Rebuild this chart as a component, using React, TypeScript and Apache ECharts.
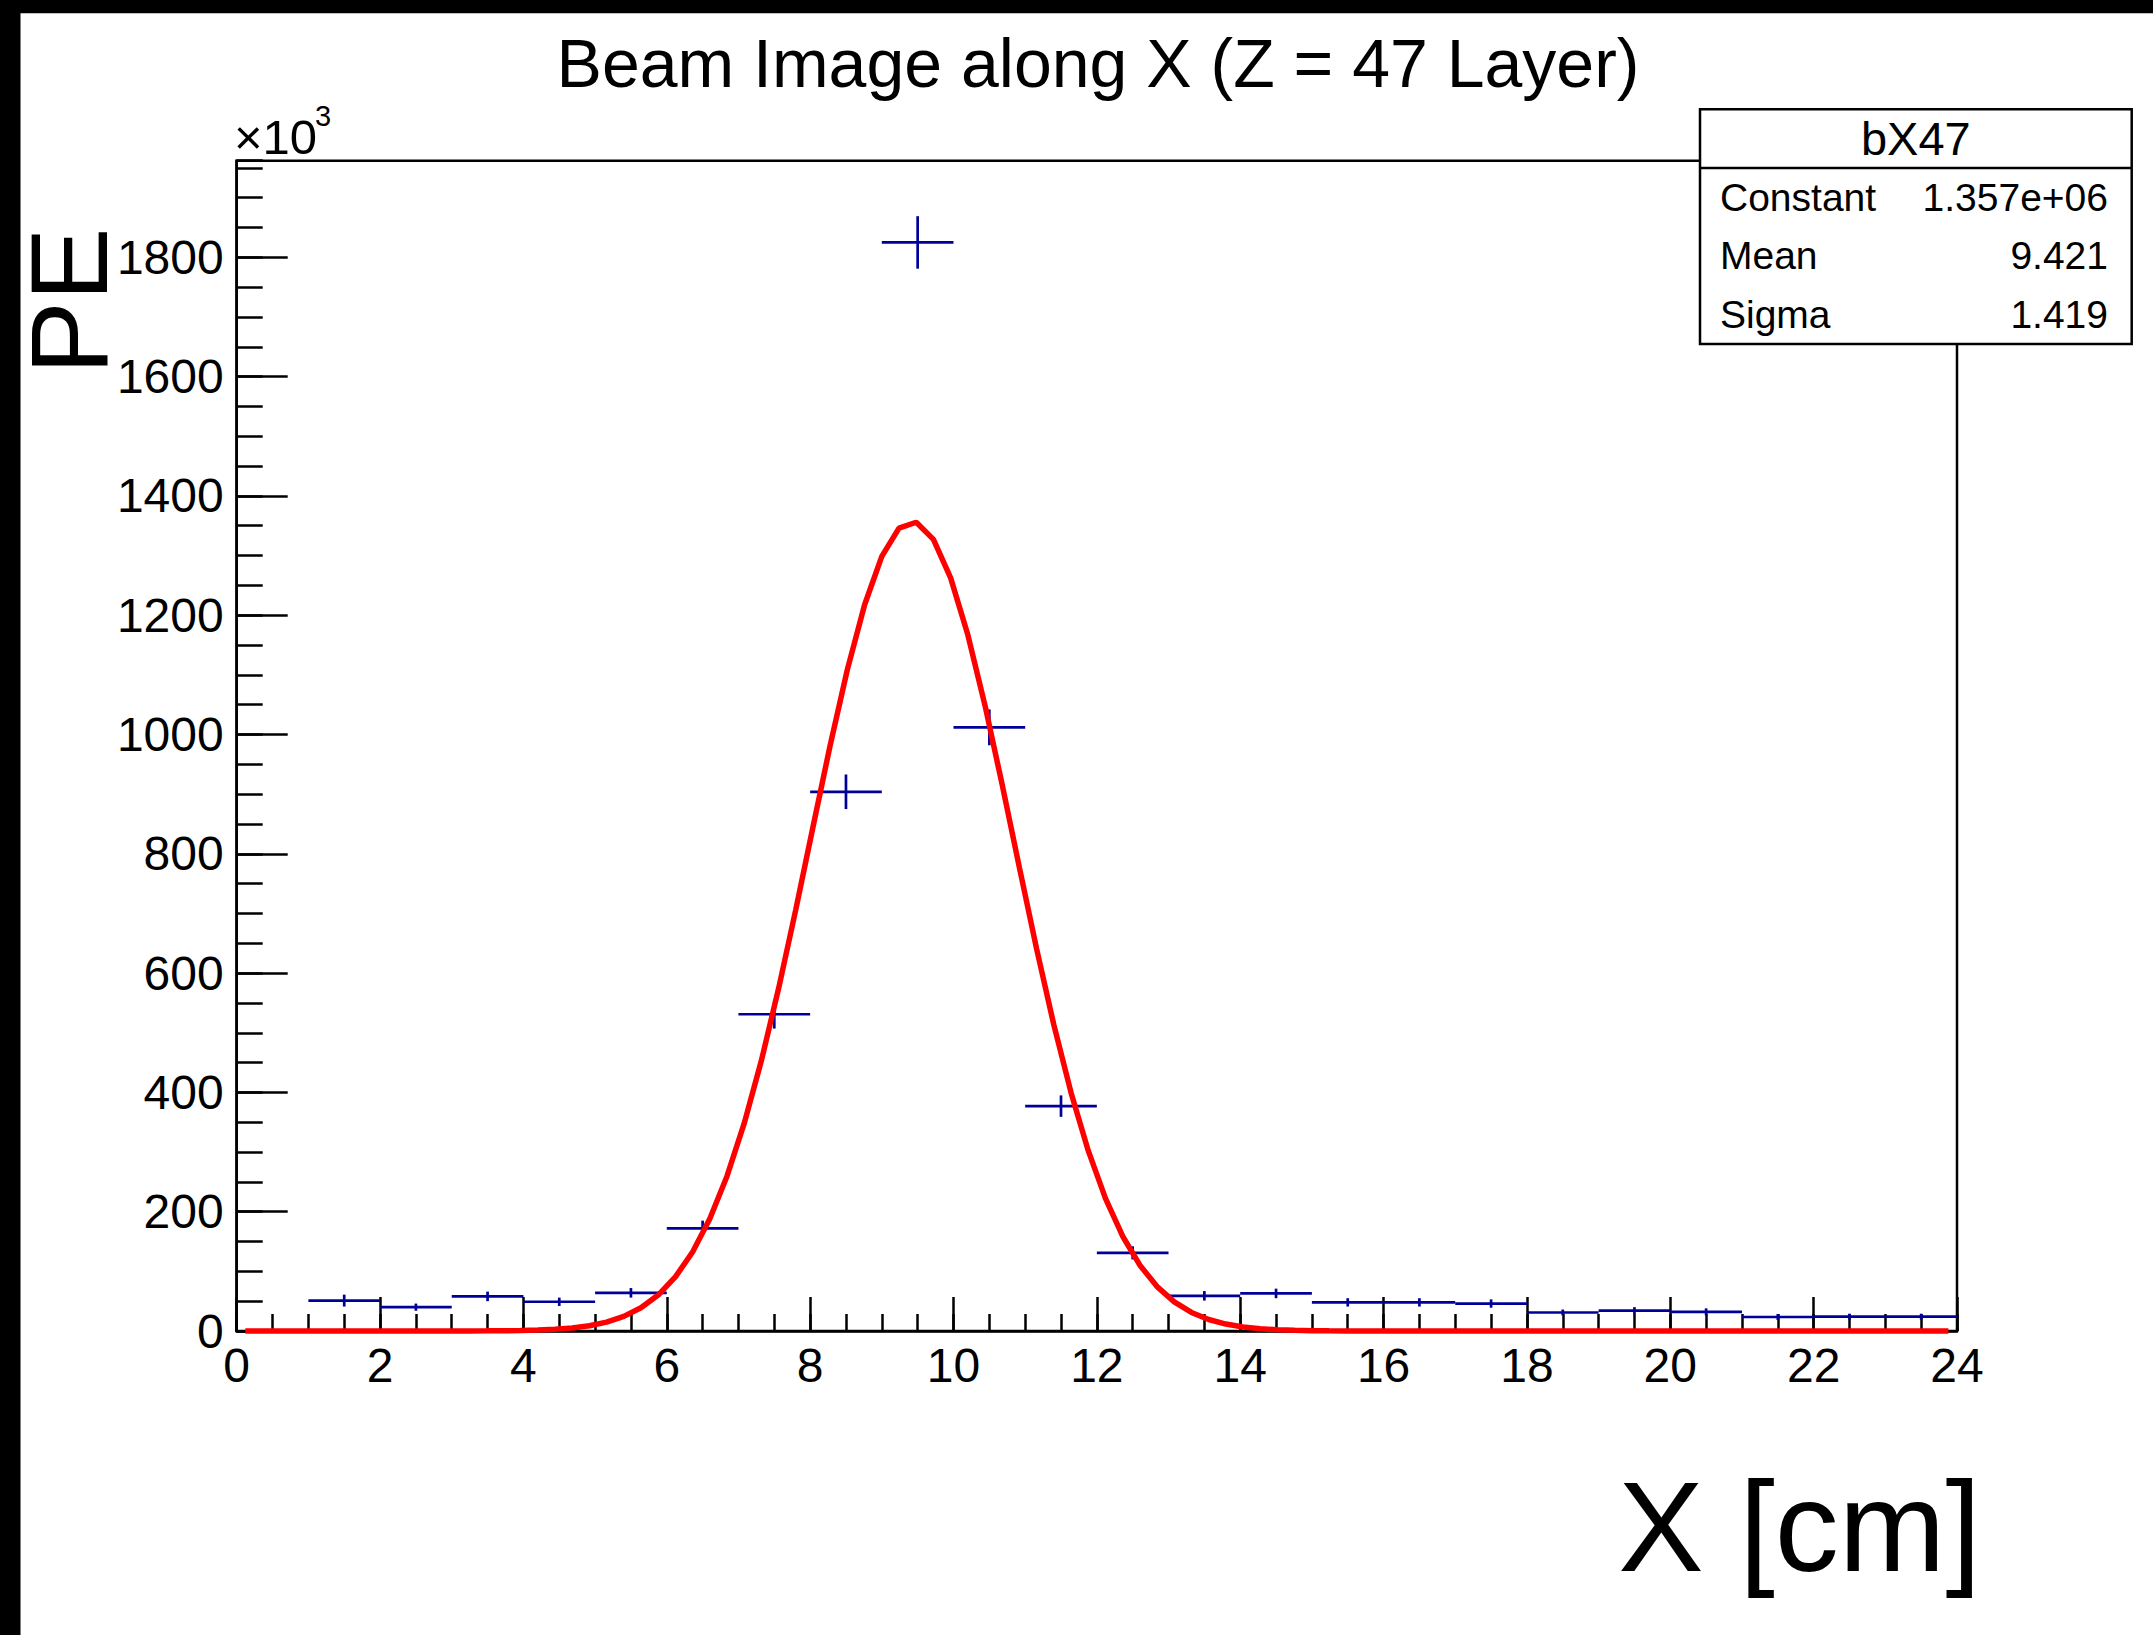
import React, { useEffect, useRef } from 'react';
import * as echarts from 'echarts';

// ---- Texts ----
const TITLE = 'Beam Image along X (Z = 47 Layer)';
const X_TITLE = 'X [cm]';
const Y_TITLE = 'PE';
const Y_MULT = '×10';
const Y_MULT_EXP = '3';
const HIST_NAME = 'bX47';

// ---- Histogram (values in units of 10^3 PE) ----
const binCenters = [0.5, 1.5, 2.5, 3.5, 4.5, 5.5, 6.5, 7.5, 8.5, 9.5, 10.5, 11.5, 12.5, 13.5, 14.5, 15.5, 16.5, 17.5, 18.5, 19.5, 20.5, 21.5, 22.5, 23.5];
const binValues = [null, 51, 40, 58, 49, 64, 172, 531, 904, 1825, 1012, 377, 131, 59, 63, 48, 48, 46, 31, 34, 32, 23.5, 24, 24];
const binErrors = [null, 10, 6, 8, 7, 8, 13, 24, 29, 44, 30, 18, 11, 8, 8, 7, 7, 7, 5, 6, 6, 5, 5, 5];
const BIN_WIDTH = 1;

// ---- Gaussian fit parameters (from the stats box) ----
const FIT_CONSTANT = 1357; // x10^3
const FIT_MEAN = 9.421;
const FIT_SIGMA = 1.419;
const FIT_NPX = 100;

const statLabels = ['Constant', 'Mean', 'Sigma'];
const statValues = ['1.357e+06', '9.421', '1.419'];

// ---- Axes ----
const X_MIN = 0;
const X_MAX = 24;
const X_MAJOR = 2;
const X_MINOR = 0.5;
const Y_MIN = 0;
const Y_MAX = 1962;
const Y_MAJOR = 200;
const Y_MINOR = 50;

// ---- Layout ----
const W = 2153;
const H = 1635;
const GL = 236.7;
const GT = 160.7;
const GR = 1957;
const GB = 1331;
const FONT = "'Liberation Sans', Arial, Helvetica, sans-serif";
const BLUE = '#000099';

export default function App() {
  const ref = useRef<HTMLDivElement>(null);

  useEffect(() => {
    if (!ref.current) return;
    const chart = echarts.init(ref.current, undefined, { renderer: 'svg' });

    const histData = binCenters
      .map((c, i) => (binValues[i] == null ? null : [c, binValues[i] as number, binErrors[i] as number]))
      .filter((d) => d !== null) as number[][];

    const fitData: number[][] = [];
    for (let i = 0; i < FIT_NPX; i++) {
      const x = X_MIN + ((i + 0.5) * (X_MAX - X_MIN)) / FIT_NPX;
      const z = (x - FIT_MEAN) / FIT_SIGMA;
      fitData.push([x, FIT_CONSTANT * Math.exp(-0.5 * z * z)]);
    }

    const tickLine = { color: '#000', width: 2.5 };
    const labelStyle = { color: '#000', fontSize: 48, fontFamily: FONT };
    const plain = (v: number) => String(Math.round(v * 100) / 100);

    const boxX = 1700;
    const boxY = 109.3;
    const boxW = 431.7;
    const boxH = 234.7;
    const rowH = boxH / 4;

    const statTexts: any[] = [];
    statLabels.forEach((lab, i) => {
      const cy = boxY + rowH * (i + 1.5);
      statTexts.push({
        type: 'text', z: 101,
        style: { text: lab, x: 1720, y: cy, fontSize: 39, fontFamily: FONT, fill: '#000', align: 'left', verticalAlign: 'middle' },
      });
      statTexts.push({
        type: 'text', z: 101,
        style: { text: statValues[i], x: 2108, y: cy, fontSize: 39, fontFamily: FONT, fill: '#000', align: 'right', verticalAlign: 'middle' },
      });
    });

    const option: any = {
      animation: false,
      backgroundColor: '#fff',
      grid: {
        left: GL, top: GT, width: GR - GL, height: GB - GT,
        show: true, borderColor: '#000', borderWidth: 2.5, backgroundColor: 'transparent',
      },
      xAxis: [
        {
          type: 'value', min: X_MIN, max: X_MAX, interval: X_MAJOR, position: 'bottom',
          axisLine: { show: true, onZero: false, lineStyle: tickLine },
          axisTick: { show: true, inside: true, length: 34, lineStyle: tickLine },
          axisLabel: { ...labelStyle, margin: 10, formatter: plain },
          splitLine: { show: false },
        },
        {
          type: 'value', min: X_MIN, max: X_MAX, interval: X_MINOR, position: 'bottom',
          axisLine: { show: false, onZero: false },
          axisTick: { show: true, inside: true, length: 17, lineStyle: tickLine },
          axisLabel: { show: false },
          splitLine: { show: false },
        },
      ],
      yAxis: [
        {
          type: 'value', min: Y_MIN, max: Y_MAX, interval: Y_MAJOR, position: 'left',
          axisLine: { show: true, onZero: false, lineStyle: tickLine },
          axisTick: { show: true, inside: true, length: 51, lineStyle: tickLine },
          axisLabel: { ...labelStyle, margin: 13, showMaxLabel: false, formatter: plain },
          splitLine: { show: false },
        },
        {
          type: 'value', min: Y_MIN, max: Y_MAX, interval: Y_MINOR, position: 'left',
          axisLine: { show: false, onZero: false },
          axisTick: { show: true, inside: true, length: 26, lineStyle: tickLine },
          axisLabel: { show: false },
          splitLine: { show: false },
        },
      ],
      series: [
        {
          type: 'custom',
          xAxisIndex: 0,
          yAxisIndex: 0,
          z: 3,
          clip: false,
          data: histData,
          encode: { x: 0, y: 1 },
          renderItem: (params: any, api: any) => {
            const xc = api.value(0);
            const v = api.value(1);
            const e = api.value(2);
            const l = api.coord([xc - BIN_WIDTH / 2, v]);
            const r = api.coord([xc + BIN_WIDTH / 2, v]);
            const t = api.coord([xc, v + e]);
            const b = api.coord([xc, v - e]);
            return {
              type: 'group',
              children: [
                { type: 'line', shape: { x1: l[0], y1: l[1], x2: r[0], y2: r[1] }, style: { stroke: BLUE, lineWidth: 2.7 } },
                { type: 'line', shape: { x1: t[0], y1: t[1], x2: b[0], y2: b[1] }, style: { stroke: BLUE, lineWidth: 2.7 } },
              ],
            };
          },
        },
        {
          type: 'line',
          xAxisIndex: 0,
          yAxisIndex: 0,
          z: 4,
          clip: false,
          data: fitData,
          showSymbol: false,
          symbol: 'none',
          lineStyle: { color: '#ff0000', width: 5.5 },
          itemStyle: { color: '#ff0000' },
        },
      ],
      graphic: [
        { type: 'rect', z: 200, shape: { x: 0, y: 0, width: 20.5, height: H }, style: { fill: '#000' } },
        { type: 'rect', z: 200, shape: { x: 0, y: 0, width: W, height: 13.3 }, style: { fill: '#000' } },
        {
          type: 'text', z: 50,
          style: { text: TITLE, x: 1098, y: 63, fontSize: 68, fontFamily: FONT, fill: '#000', align: 'center', verticalAlign: 'middle' },
        },
        {
          type: 'text', z: 50, x: 68, y: 301, rotation: Math.PI / 2,
          style: { text: Y_TITLE, x: 0, y: 0, fontSize: 110, fontFamily: FONT, fill: '#000', align: 'center', verticalAlign: 'middle' },
        },
        {
          type: 'text', z: 50,
          style: { text: X_TITLE, x: 1981, y: 1526, fontSize: 128, fontFamily: FONT, fill: '#000', align: 'right', verticalAlign: 'middle' },
        },
        {
          type: 'text', z: 50,
          style: { text: Y_MULT, x: 234, y: 137, fontSize: 49, fontFamily: FONT, fill: '#000', align: 'left', verticalAlign: 'middle' },
        },
        {
          type: 'text', z: 50,
          style: { text: Y_MULT_EXP, x: 315, y: 116, fontSize: 29, fontFamily: FONT, fill: '#000', align: 'left', verticalAlign: 'middle' },
        },
        {
          type: 'rect', z: 100,
          shape: { x: boxX, y: boxY, width: boxW, height: boxH },
          style: { fill: '#fff', stroke: '#000', lineWidth: 2.5 },
        },
        {
          type: 'line', z: 101,
          shape: { x1: boxX, y1: boxY + rowH, x2: boxX + boxW, y2: boxY + rowH },
          style: { stroke: '#000', lineWidth: 2.5 },
        },
        {
          type: 'text', z: 101,
          style: { text: HIST_NAME, x: boxX + boxW / 2, y: boxY + rowH / 2, fontSize: 47, fontFamily: FONT, fill: '#000', align: 'center', verticalAlign: 'middle' },
        },
        ...statTexts,
      ],
    };

    chart.setOption(option);
    return () => chart.dispose();
  }, []);

  return (
    <div
      ref={ref}
      style={{ position: 'absolute', left: 0, top: 0, width: W, height: H, background: '#fff' }}
    />
  );
}
